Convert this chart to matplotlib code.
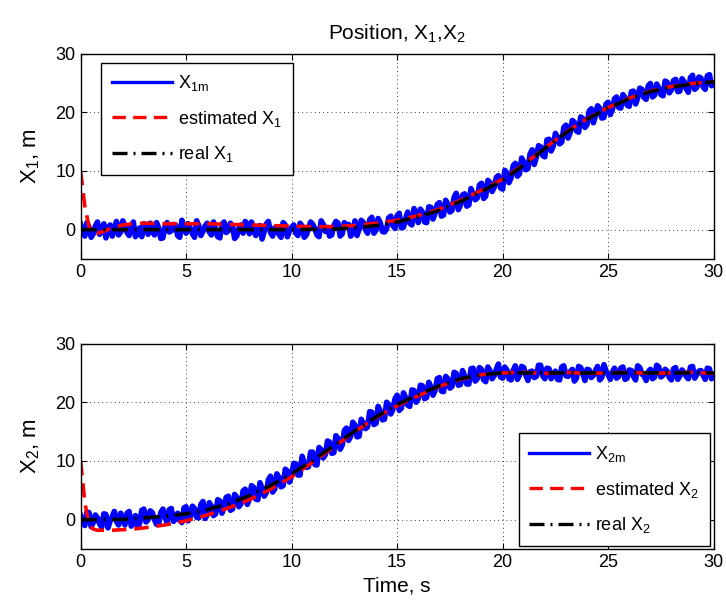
import matplotlib
matplotlib.use("Agg")
import matplotlib.pyplot as plt
import numpy as np

plt.rcParams['font.family'] = ['Liberation Sans', 'DejaVu Sans']
plt.rcParams['mathtext.default'] = 'regular'

# Sample times of the measured signals (0.1 s step)
t_meas = np.round(np.arange(0, 301) * 0.1, 1)

# Measured position X1 (noisy sensor output)
x1_meas = [
    0.9, -0.3, -1.1, 1.2, 0.4, -1.3, -0.7, 0.6, 1.3, -0.8,
    -0.2, 1.0, -1.4, 0.2, 0.8, -1.1, 0.1, 1.4, -0.9, -0.4,
    1.5, 0.7, -0.5, -1.0, 0.6, 1.3, -1.2, -0.6, 0.3, -1.2,
    1.0, 0.5, -0.8, 1.1, -0.1, -0.9, 1.2, 0.3, -1.5, -1.4,
    0.5, 1.2, -0.4, -0.2, 0.9, 0.8, -1.0, -1.3, 1.6, 0.4,
    -0.6, 1.0, 0.2, -0.7, -1.3, 1.5, 0.7, -1.0, -0.3, 0.6,
    1.1, -0.4, -0.9, 1.3, 0.0, -1.2, -1.4, 0.9, 1.3, -0.5,
    -0.2, 1.1, 0.6, -1.5, -1.1, 0.2, 0.8, -0.6, 1.4, 0.9,
    -0.7, 1.3, -0.1, -1.0, 0.5, 0.7, -1.6, -0.3, 1.0, 1.4,
    -0.5, -1.1, 0.3, 0.5, -0.8, -1.3, 1.2, 0.8, -1.2, -0.2,
    0.4, 0.8, -0.6, -1.0, 1.1, 0.6, -1.3, -0.9, 0.2, 1.3,
    0.9, 0.2, -0.9, -1.2, 1.5, 0.9, -0.3, 0.4, -1.1, -0.9,
    0.7, 1.4, 1.1, -1.1, -0.7, 1.2, 0.5, 0.9, -1.1, -0.5,
    1.5, -1.0, 0.1, 1.6, 1.2, 0.0, -0.6, 1.7, 2.1, -0.6,
    -0.1, 1.9, 1.2, -0.3, -0.4, 0.1, 2.0, 2.3, 0.7, 0.2,
    2.4, 2.8, 0.3, 0.4, 1.9, 3.0, 1.1, 0.8, 3.6, 2.5,
    1.2, 3.5, 3.0, 1.3, 1.2, 3.9, 3.8, 1.8, 2.8, 4.3,
    4.6, 2.3, 2.5, 5.0, 4.4, 3.0, 3.3, 5.5, 6.2, 3.4,
    4.2, 5.9, 6.1, 4.0, 4.2, 7.0, 6.1, 5.1, 5.4, 7.6,
    7.9, 5.3, 5.7, 8.4, 8.0, 6.5, 7.2, 8.9, 9.2, 7.1,
    6.9, 10.1, 9.7, 8.0, 8.8, 10.9, 11.3, 9.1, 9.5, 12.2,
    11.5, 10.2, 10.4, 12.9, 13.6, 11.1, 12.4, 14.3, 14.1, 12.6,
    12.4, 15.3, 15.4, 13.4, 14.2, 16.4, 15.8, 14.6, 14.9, 17.4,
    17.8, 15.6, 16.5, 18.6, 18.3, 16.8, 16.6, 19.2, 18.9, 17.4,
    17.9, 20.2, 20.6, 18.2, 19.4, 21.1, 20.7, 19.0, 19.1, 21.4,
    21.7, 19.6, 20.4, 22.3, 22.6, 20.8, 20.7, 23.0, 22.5, 21.2,
    21.0, 23.5, 23.6, 21.4, 22.4, 24.1, 23.9, 22.5, 22.2, 24.5,
    24.9, 22.6, 22.9, 24.8, 24.1, 23.0, 22.8, 25.3, 25.1, 23.3,
    23.8, 25.4, 25.6, 23.5, 23.6, 25.7, 25.2, 24.0, 23.4, 25.9,
    26.3, 23.9, 24.2, 26.0, 25.8, 24.3, 23.9, 26.2, 26.4, 24.5,
    24.8,
]

# Measured position X2 (noisy sensor output)
x2_meas = [
    0.7, -0.4, -1.0, 1.3, 1.2, -1.2, -0.5, 0.8, 0.3, -0.7,
    -1.3, 1.0, 0.9, -1.4, -0.2, 0.5, 1.4, -0.3, -0.9, 1.1,
    0.1, -0.9, 1.1, 1.4, -1.1, -0.2, 0.7, -1.3, -0.6, 1.6,
    1.8, -0.4, 0.0, 1.5, 1.2, 0.0, -0.8, -0.7, 1.2, 1.8,
    0.4, -0.5, 1.7, 1.9, -0.3, 0.1, 1.1, -0.1, -0.5, 2.0,
    2.2, -0.2, 0.5, 2.3, 1.9, 0.4, 0.3, 2.6, 3.1, 0.2,
    0.8, 2.9, 2.3, 0.7, 1.0, 3.4, 3.2, 1.1, 2.2, 3.8,
    4.0, 1.6, 1.8, 4.3, 3.8, 2.2, 2.7, 4.9, 5.2, 2.6,
    3.5, 5.8, 5.5, 3.5, 3.4, 6.3, 5.3, 4.0, 4.6, 6.8,
    7.4, 4.7, 5.2, 7.8, 7.2, 5.6, 5.8, 8.6, 8.3, 6.4,
    7.5, 9.6, 9.5, 7.6, 7.6, 10.8, 9.6, 8.9, 9.0, 11.5,
    11.5, 9.4, 9.3, 12.3, 11.9, 10.5, 11.1, 13.4, 13.2, 11.3,
    11.4, 14.3, 13.8, 12.0, 12.7, 15.2, 15.6, 13.5, 14.2, 16.6,
    16.1, 14.1, 14.2, 17.1, 16.4, 15.5, 15.8, 18.4, 18.3, 16.2,
    16.4, 19.3, 18.5, 17.0, 17.1, 20.0, 19.6, 18.0, 18.8, 20.6,
    21.2, 18.6, 19.0, 21.6, 20.8, 19.5, 19.3, 22.1, 22.0, 20.0,
    20.6, 22.9, 22.8, 20.6, 20.8, 23.4, 22.6, 21.2, 22.0, 24.0,
    24.2, 21.9, 21.8, 24.4, 24.0, 22.4, 22.7, 25.1, 24.9, 22.9,
    23.0, 25.4, 24.4, 23.1, 23.1, 25.7, 25.8, 23.6, 24.0, 25.9,
    25.6, 23.8, 23.5, 26.0, 25.4, 24.0, 24.5, 25.6, 26.5, 24.3,
    24.1, 26.0, 25.5, 24.0, 23.8, 25.4, 26.2, 23.9, 24.6, 26.1,
    25.9, 24.6, 23.7, 25.2, 25.3, 24.2, 24.4, 26.3, 26.3, 24.5,
    24.0, 25.8, 25.7, 24.0, 24.8, 25.3, 23.9, 23.8, 26.0, 26.2,
    24.5, 24.4, 25.2, 25.6, 23.6, 24.1, 26.1, 25.9, 24.9, 23.7,
    25.6, 25.5, 24.2, 24.6, 25.4, 26.1, 23.8, 24.2, 26.4, 25.3,
    24.7, 23.9, 25.1, 25.8, 24.1, 24.4, 25.8, 26.0, 23.9, 24.1,
    25.5, 25.4, 24.4, 23.8, 26.2, 25.9, 24.8, 24.5, 23.7, 25.2,
    25.6, 24.0, 24.3, 26.3, 26.0, 24.3, 24.6, 25.6, 25.3, 24.2,
    23.8, 25.7, 25.9, 23.9, 24.5, 25.5, 25.1, 24.4, 24.0, 26.0,
    26.1, 24.1, 24.7, 25.3, 25.4, 24.6, 23.9, 25.8, 25.7, 24.0,
    24.6,
]

# Real trajectories (1 s step)
t_real = list(range(0, 31))
x1_real = [0, 0, 0, 0, 0, 0, 0, 0, 0, 0, 0, 0.05, 0.1, 0.3, 0.7, 1.3,
           2.2, 3.3, 4.8, 6.5, 8.4, 11.0, 13.8, 16.5, 18.8, 20.7, 22.3,
           23.5, 24.3, 24.8, 25.2]
x2_real = [0, 0, 0.05, 0.3, 0.6, 1.0, 1.7, 2.7, 4.1, 5.8, 7.8, 10.1, 12.6,
           15.1, 17.5, 19.6, 21.3, 22.8, 24.0, 24.7, 25.0, 25.0, 25.0, 25.0,
           25.0, 25.0, 25.0, 25.0, 25.0, 25.0, 25.0]

# Observer estimates
t_est = [0, 0.2, 0.4, 0.6, 0.8, 1.0, 1.5, 2, 2.5, 3, 4, 5, 6, 7, 8, 9, 10,
         11, 12, 13, 14, 15, 16, 17, 18, 19, 20, 21, 22, 23, 24, 25, 26, 27,
         28, 29, 30]
x1_est = [10, 4.0, 0.5, -0.5, -0.6, -0.4, 0.3, 0.8, 1.0, 1.1, 1.0, 1.0, 1.0,
          0.9, 0.8, 0.7, 0.6, 0.5, 0.5, 0.7, 1.1, 1.6, 2.4, 3.5, 5.0, 6.7,
          8.6, 11.1, 13.9, 16.6, 18.9, 20.8, 22.4, 23.6, 24.4, 24.9, 25.2]
x2_est = [10, 3.0, -1.0, -1.6, -1.8, -1.8, -1.8, -1.7, -1.6, -1.4, -0.9,
          -0.2, 0.8, 2.0, 3.4, 5.2, 7.3, 9.8, 12.4, 15.0, 17.4, 19.4, 21.1,
          22.7, 23.9, 24.7, 25.0, 25.1, 24.9, 25.1, 24.9, 25.0, 25.1, 24.9,
          25.0, 25.1, 24.9]

fig = plt.figure(figsize=(7.26, 6.08), dpi=100)
ax1 = fig.add_axes([0.111, 0.574, 0.872, 0.338])
ax2 = fig.add_axes([0.111, 0.097, 0.872, 0.338])


def draw_panel(ax, meas, est, real, idx, legend_loc, anchor):
    ax.plot(t_meas, meas, color='#0000ff', lw=4.0, label='X$_{%dm}$' % idx)
    ax.plot(t_est, est, color='#ff0000', lw=2.6, dashes=(4, 2.2),
            label='estimated X$_%d$' % idx)
    ax.plot(t_real, real, color='black', lw=2.6, dashes=(4.5, 1.8, 0.6, 1.8),
            label='real X$_%d$' % idx)
    ax.set_xlim(0, 30)
    ax.set_ylim(-5, 30)
    ax.set_xticks(range(0, 31, 5))
    ax.set_yticks([0, 10, 20, 30])
    ax.grid(True, color='black', linestyle=(0, (1, 4)), linewidth=0.6)
    ax.tick_params(direction='in', top=True, right=True, labelsize=13,
                   length=4, width=0.8)
    for s in ax.spines.values():
        s.set_linewidth(1.0)
    ax.set_ylabel('X$_%d$, m' % idx, fontsize=16, labelpad=10)
    leg = ax.legend(loc=legend_loc, bbox_to_anchor=anchor, fontsize=13,
                    handlelength=3.3, labelspacing=0.85, borderpad=0.6,
                    handletextpad=0.35, borderaxespad=0, fancybox=False,
                    framealpha=1, edgecolor='black')
    leg.get_frame().set_linewidth(1.0)
    for line in leg.get_lines():
        line.set_linewidth(2.4)


draw_panel(ax1, x1_meas, x1_est, x1_real, 1, 'upper left', (0.033, 0.956))
draw_panel(ax2, x2_meas, x2_est, x2_real, 2, 'lower right', (0.994, 0.016))

ax1.set_title('Position, X$_1$,X$_2$', fontsize=15, pad=10)
ax2.set_xlabel('Time, s', fontsize=15)

fig.savefig('out.png', dpi=100)
